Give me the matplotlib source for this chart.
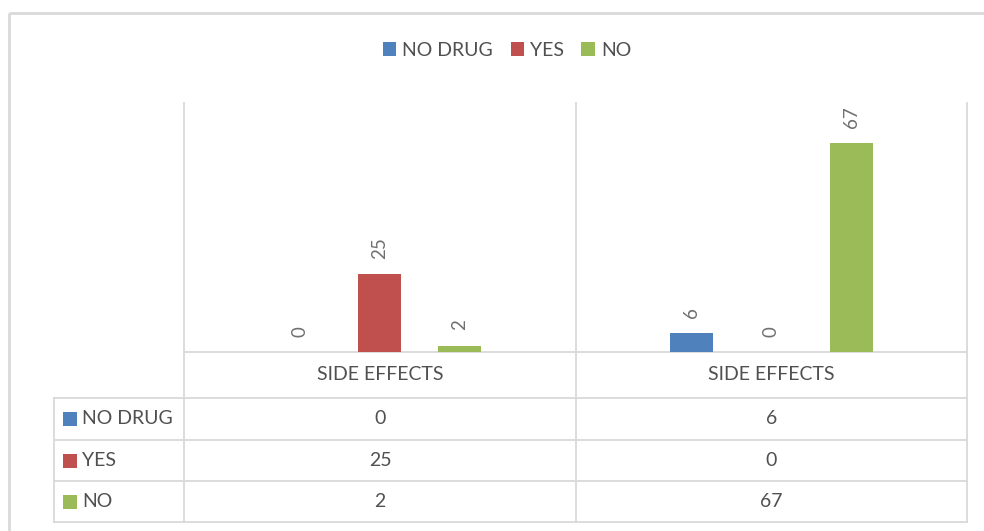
import matplotlib
matplotlib.use("Agg")
import matplotlib.pyplot as plt
from matplotlib.patches import Rectangle, Patch
from matplotlib.lines import Line2D
import numpy as np

plt.rcParams['font.family'] = ['Lato', 'DejaVu Sans']

# ---- data ----
categories = ["SIDE EFFECTS", "SIDE EFFECTS"]
series_names = ["NO DRUG", "YES", "NO"]
no_drug = [0, 6]
yes = [25, 0]
no = [2, 67]
series_values = [no_drug, yes, no]
colors = ["#4F81BD", "#C0504D", "#9BBB59"]

W, H = 984, 531
GRID = "#D9D9D9"
TXT = "#505050"
LBL = "#707070"

fig = plt.figure(figsize=(W / 100, H / 100), dpi=100)

# overlay axes in pixel coordinates for frame and data table
over = fig.add_axes([0, 0, 1, 1])
over.set_xlim(0, W)
over.set_ylim(H, 0)
over.axis("off")

# chart plot area (pixels)
px_l, px_r, py_t, py_b = 184, 967, 103, 352
ax = fig.add_axes([px_l / W, 1 - py_b / H, (px_r - px_l) / W, (py_b - py_t) / H])
ax.set_xlim(-0.5, len(categories) - 0.5)
ax.set_ylim(0, 80)
ax.axis("off")

x = np.arange(len(categories))
bar_w = 0.11
step = 0.204
for i, (name, vals, c) in enumerate(zip(series_names, series_values, colors)):
    bars = ax.bar(x + (i - 1) * step, vals, width=bar_w, color=c, label=name)
    ax.bar_label(bars, labels=[str(v) for v in vals], rotation=90,
                 padding=11, fontsize=13.5, color=LBL)

# outer chart frame
over.add_patch(Rectangle((9, 13), 1000, 540, fill=False, edgecolor=GRID, lw=2))

# data table geometry
col_edges = [184, 576, 967]
left_col = 54
row_edges = [352, 398, 440, 481, 522]

lw = 1.3
# vertical lines: category separators through plot area and table
for xe in col_edges:
    over.add_line(Line2D([xe, xe], [py_t, row_edges[-1]], color=GRID, lw=lw))
over.add_line(Line2D([left_col, left_col], [row_edges[1], row_edges[-1]], color=GRID, lw=lw))
# horizontal lines
over.add_line(Line2D([col_edges[0], col_edges[-1]], [row_edges[0], row_edges[0]], color=GRID, lw=lw))
for ye in row_edges[1:]:
    over.add_line(Line2D([left_col, col_edges[-1]], [ye, ye], color=GRID, lw=lw))

fs = 14
# header row
for j, cat in enumerate(categories):
    cx = (col_edges[j] + col_edges[j + 1]) / 2
    cy = (row_edges[0] + row_edges[1]) / 2
    over.text(cx, cy, cat, ha="center", va="center", fontsize=fs, color=TXT)

# body rows
for i, (name, vals, c) in enumerate(zip(series_names, series_values, colors)):
    cy = (row_edges[i + 1] + row_edges[i + 2]) / 2
    over.add_patch(Rectangle((63, cy - 7), 14, 14, color=c, lw=0))
    over.text(82, cy, name, ha="left", va="center", fontsize=fs, color=TXT)
    for j, v in enumerate(vals):
        cx = (col_edges[j] + col_edges[j + 1]) / 2
        over.text(cx, cy, str(v), ha="center", va="center", fontsize=fs, color=TXT)

# legend
handles = [Patch(facecolor=c, edgecolor="none") for c in colors]
fig.legend(handles, series_names, loc="center", bbox_to_anchor=(507 / W, 1 - 50 / H),
           ncol=3, frameon=False, fontsize=fs, labelcolor=TXT,
           handlelength=0.7, handleheight=0.7, handletextpad=0.3,
           columnspacing=0.9, borderpad=0)

fig.savefig("out.png", dpi=100, facecolor="white")
